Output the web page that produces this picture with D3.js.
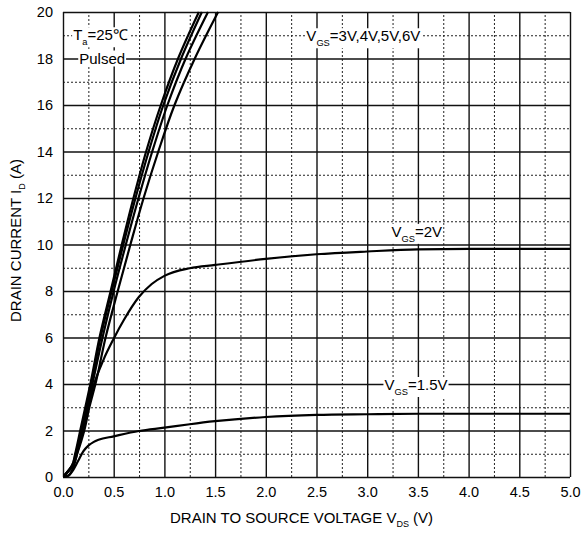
<!DOCTYPE html>
<html>
<head>
<meta charset="utf-8">
<script src="https://cdn.jsdelivr.net/npm/d3@7"></script>
<style>
  body { margin: 0; background: #fff; }
  svg { font-family: "Liberation Sans", Arial, sans-serif; }
</style>
</head>
<body>
<div id="chart"></div>
<script>
// current levels shared by the steep curves (A)
const idLevels = [0, 0.5, 1, 2, 3, 4, 6, 8, 10, 12, 14, 16, 18, 20];
// VDS where each steep curve hits those levels (V)
const vds6V = [0, 0.09, 0.12, 0.17, 0.22, 0.27, 0.36, 0.47, 0.58, 0.695, 0.82, 0.965, 1.135, 1.34];
const vds5V = [0, 0.09, 0.125, 0.18, 0.23, 0.28, 0.37, 0.48, 0.595, 0.715, 0.845, 0.99, 1.165, 1.37];
const vds4V = [0, 0.095, 0.13, 0.19, 0.24, 0.29, 0.39, 0.50, 0.62, 0.745, 0.88, 1.03, 1.21, 1.43];
const vds3V = [0, 0.10, 0.14, 0.21, 0.26, 0.32, 0.42, 0.54, 0.665, 0.795, 0.94, 1.10, 1.30, 1.53];

// VGS = 2V curve
const vds2V = [0, 0.05, 0.1, 0.15, 0.2, 0.3, 0.4, 0.5, 0.6, 0.75, 0.875, 1.0, 1.25, 1.5, 2.0, 2.5, 3.0, 3.5, 4.0, 5.0];
const id2V = [0, 0.05, 0.4, 1.2, 2.1, 3.9, 5.05, 5.95, 6.75, 7.75, 8.3, 8.65, 8.98, 9.12, 9.38, 9.58, 9.7, 9.79, 9.81, 9.81];

// VGS = 1.5V curve
const vds15V = [0, 0.05, 0.1, 0.15, 0.2, 0.25, 0.3, 0.35, 0.5, 0.75, 1.0, 1.25, 1.5, 2.0, 2.5, 3.0, 3.5, 4.0, 5.0];
const id15V = [0, 0.05, 0.3, 0.7, 1.1, 1.35, 1.5, 1.6, 1.75, 1.98, 2.12, 2.27, 2.4, 2.58, 2.67, 2.7, 2.72, 2.72, 2.72];

const xTicks = [0, 0.5, 1, 1.5, 2, 2.5, 3, 3.5, 4, 4.5, 5];
const yTicks = [0, 2, 4, 6, 8, 10, 12, 14, 16, 18, 20];
const xMinor = [0.25, 0.75, 1.25, 1.75, 2.25, 2.75, 3.25, 3.75, 4.25, 4.75];
const yMinor = [1, 3, 5, 7, 9, 11, 13, 15, 17, 19];

const W = 582, H = 540;
const margin = { top: 12, left: 63, right: 12, bottom: 63 };
const innerW = W - margin.left - margin.right;
const innerH = H - margin.top - margin.bottom;

const x = d3.scaleLinear().domain([0, 5]).range([0, innerW]);
const y = d3.scaleLinear().domain([0, 20]).range([innerH, 0]);

const svg = d3.select('#chart').append('svg')
    .attr('width', W)
    .attr('height', H);

const g = svg.append('g')
    .attr('transform', `translate(${margin.left},${margin.top})`);

// minor dotted grid
g.append('g')
    .attr('transform', `translate(0,${innerH})`)
    .call(d3.axisBottom(x).tickValues(xMinor).tickSize(-innerH).tickFormat(''))
    .call(a => a.select('.domain').remove())
    .selectAll('line')
        .attr('stroke', '#222')
        .attr('stroke-width', 1)
        .attr('stroke-dasharray', '2,2');

g.append('g')
    .call(d3.axisLeft(y).tickValues(yMinor).tickSize(-innerW).tickFormat(''))
    .call(a => a.select('.domain').remove())
    .selectAll('line')
        .attr('stroke', '#222')
        .attr('stroke-width', 1)
        .attr('stroke-dasharray', '2,2');

// major solid grid
g.append('g')
    .attr('transform', `translate(0,${innerH})`)
    .call(d3.axisBottom(x).tickValues(xTicks).tickSize(-innerH).tickFormat(''))
    .call(a => a.select('.domain').remove())
    .selectAll('line')
        .attr('stroke', '#111')
        .attr('stroke-width', 1.4);

g.append('g')
    .call(d3.axisLeft(y).tickValues(yTicks).tickSize(-innerW).tickFormat(''))
    .call(a => a.select('.domain').remove())
    .selectAll('line')
        .attr('stroke', '#111')
        .attr('stroke-width', 1.4);

// tick labels
g.append('g')
    .attr('transform', `translate(0,${innerH})`)
    .call(d3.axisBottom(x).tickValues(xTicks).tickSize(0).tickPadding(10).tickFormat(d3.format('.1f')))
    .call(a => a.select('.domain').remove())
    .selectAll('text')
        .attr('font-size', 14.5)
        .attr('fill', '#000')
        .attr('font-family', '"Liberation Sans", Arial, sans-serif');

g.append('g')
    .call(d3.axisLeft(y).tickValues(yTicks).tickSize(0).tickPadding(10).tickFormat(d3.format('d')))
    .call(a => a.select('.domain').remove())
    .selectAll('text')
        .attr('font-size', 14.5)
        .attr('fill', '#000')
        .attr('font-family', '"Liberation Sans", Arial, sans-serif');

// curves
svg.append('clipPath').attr('id', 'plot-clip')
    .append('rect').attr('width', innerW).attr('height', innerH + 2).attr('y', -1);

const steepLine = d3.line()
    .x(d => x(d[0]))
    .y(d => y(d[1]))
    .curve(d3.curveMonotoneY);

const flatLine = d3.line()
    .x(d => x(d[0]))
    .y(d => y(d[1]))
    .curve(d3.curveMonotoneX);

const steep = [vds6V, vds5V, vds4V, vds3V].map(vs => vs.map((v, i) => [v, idLevels[i]]));
const flat = [
    vds2V.map((v, i) => [v, id2V[i]]),
    vds15V.map((v, i) => [v, id15V[i]])
];

const curves = g.append('g').attr('clip-path', 'url(#plot-clip)');

curves.selectAll('.steep')
    .data(steep)
    .join('path')
        .attr('class', 'steep')
        .attr('d', steepLine)
        .attr('fill', 'none')
        .attr('stroke', '#000')
        .attr('stroke-width', 2.2);

curves.selectAll('.flat')
    .data(flat)
    .join('path')
        .attr('class', 'flat')
        .attr('d', flatLine)
        .attr('fill', 'none')
        .attr('stroke', '#000')
        .attr('stroke-width', 2.2);

// labels with white boxes
const addLabel = (px, py, main, sub, rest, size) => {
    const lg = g.append('g').attr('transform', `translate(${px},${py})`);
    const bg = lg.append('rect').attr('fill', '#fff');
    const t = lg.append('text').attr('font-size', size).attr('fill', '#000');
    t.append('tspan').text(main);
    if (sub) {
        t.append('tspan').attr('font-size', size * 0.62).attr('dy', 5).text(sub);
        t.append('tspan').attr('dy', -5).text(rest);
    }
    const b = t.node().getBBox();
    bg.attr('x', b.x - 1).attr('y', b.y + 1).attr('width', b.width + 2).attr('height', b.height - 1);
};

addLabel(x(0.1), y(19) + 5, 'T', 'a', '=25\u2103', 15);
addLabel(x(0.16), y(18) + 5, 'Pulsed', null, null, 15);
addLabel(x(2.4), y(19) + 6, 'V', 'GS', '=3V,4V,5V,6V', 15);
addLabel(x(3.24), y(10.5) + 4, 'V', 'GS', '=2V', 15);
addLabel(x(3.17), y(4) + 6, 'V', 'GS', '=1.5V', 15);

// axis titles
const xt = svg.append('text')
    .attr('x', 170)
    .attr('y', 523)
    .attr('font-size', 15)
    .attr('fill', '#000');
xt.append('tspan').text('DRAIN TO SOURCE VOLTAGE V');
xt.append('tspan').attr('font-size', 9).attr('dy', 4).text('DS');
xt.append('tspan').attr('dy', -4).text(' (V)');

const yt = svg.append('text')
    .attr('transform', 'translate(21,322) rotate(-90)')
    .attr('font-size', 15)
    .attr('fill', '#000');
yt.append('tspan').text('DRAIN CURRENT I');
yt.append('tspan').attr('font-size', 9).attr('dy', 4).text('D');
yt.append('tspan').attr('dy', -4).text(' (A)');
</script>
</body>
</html>
